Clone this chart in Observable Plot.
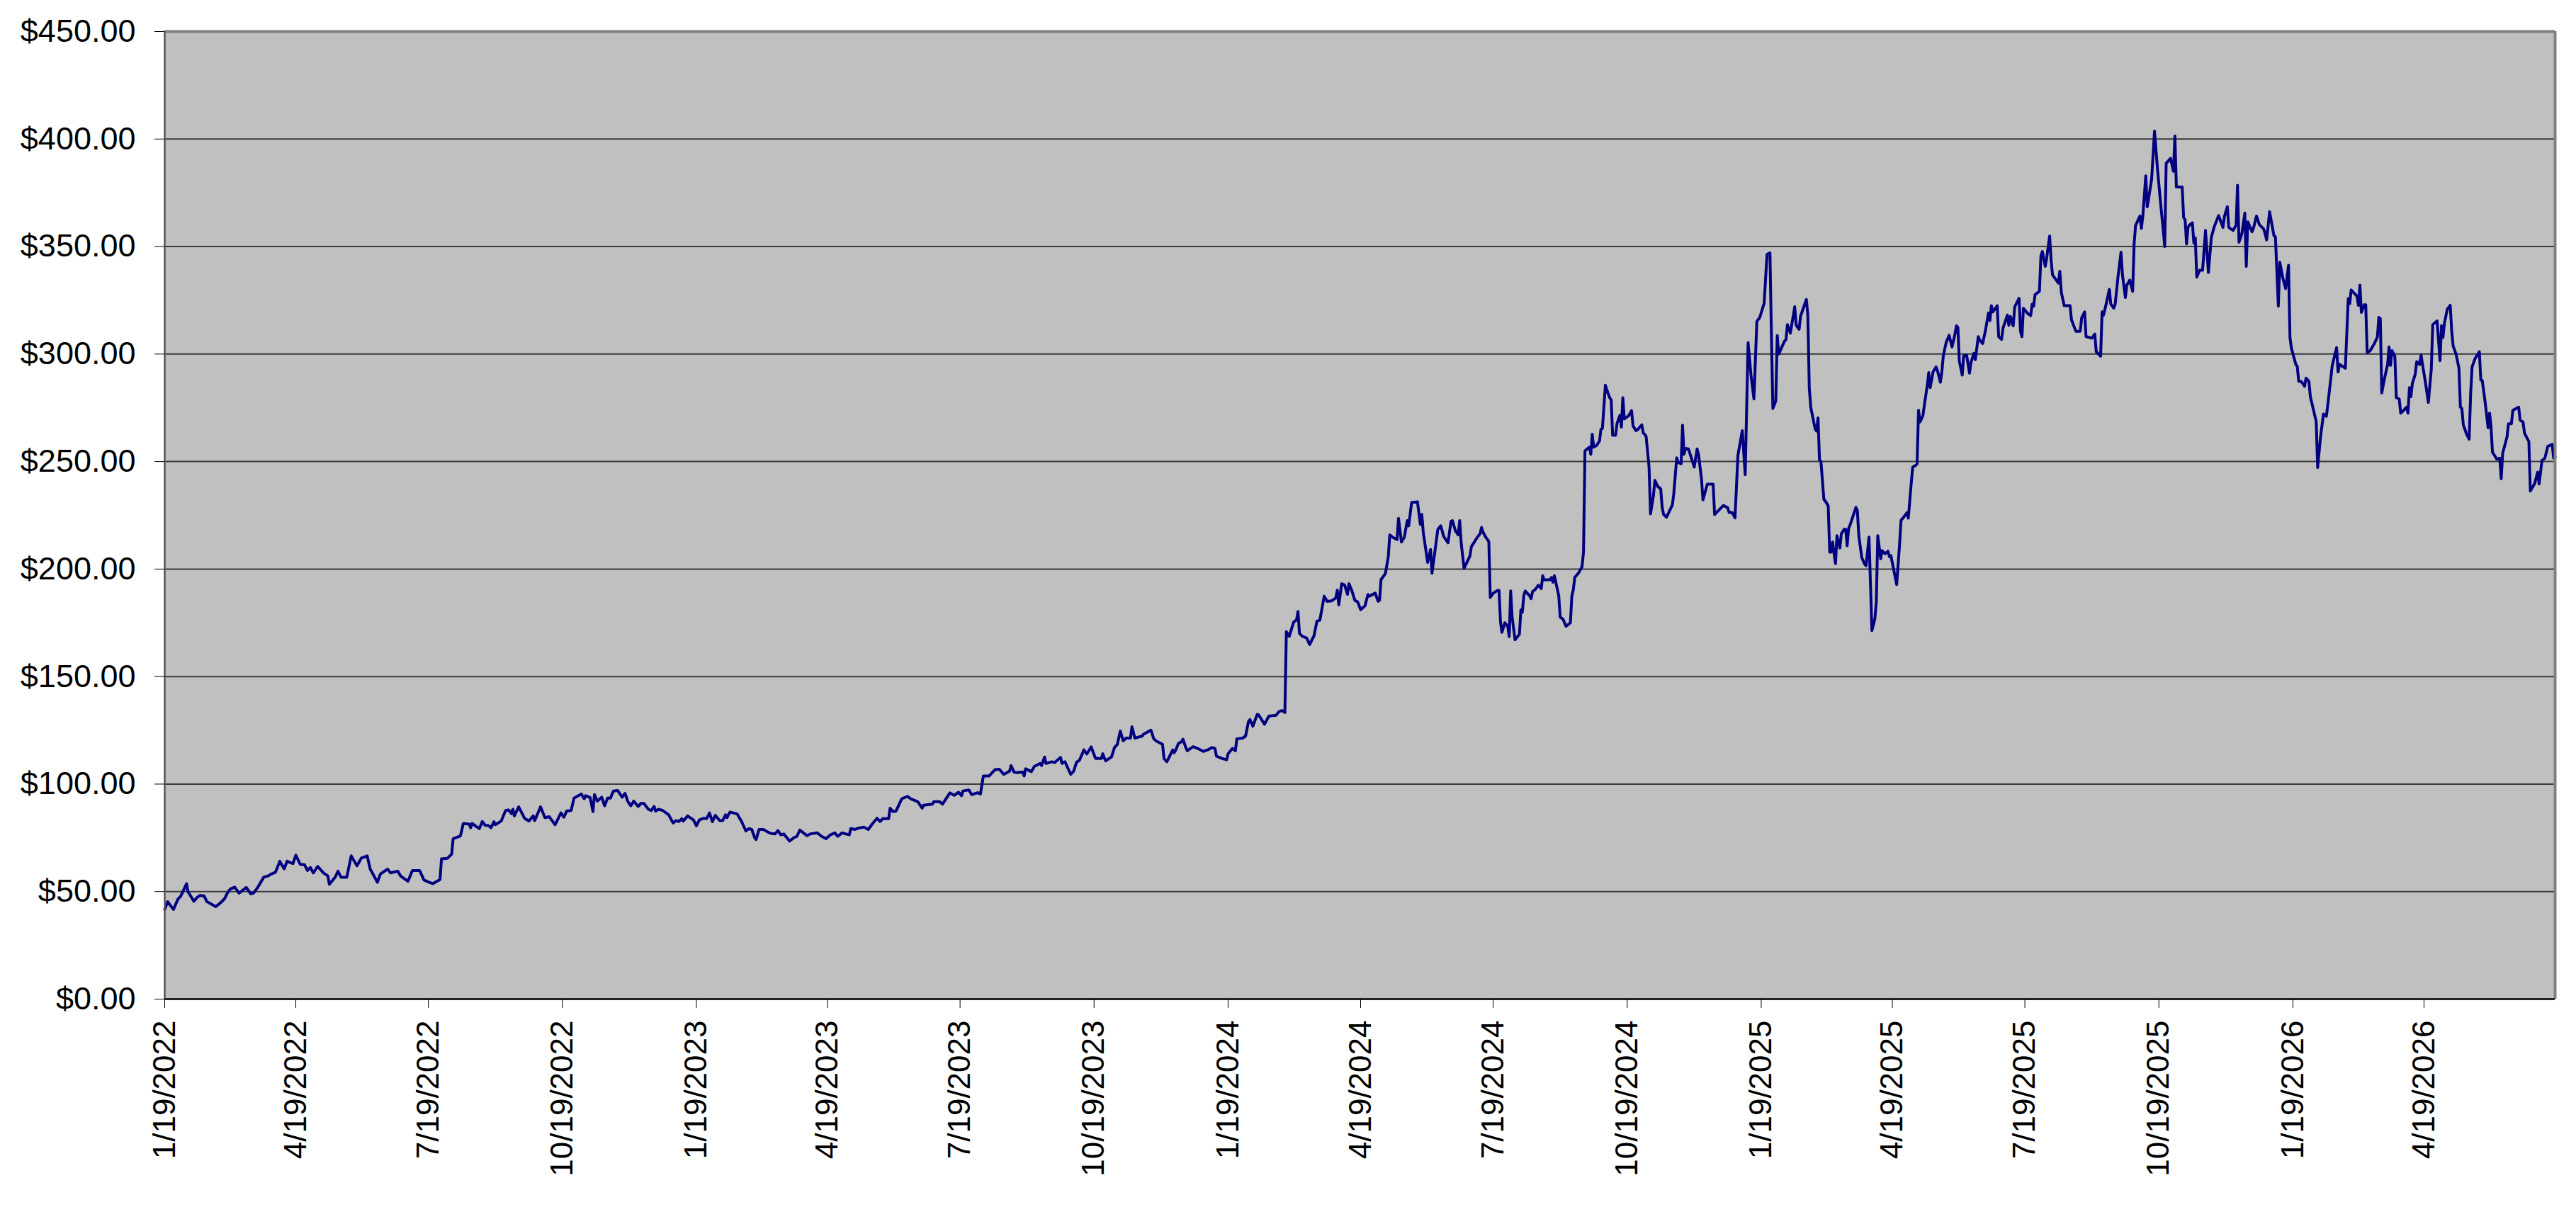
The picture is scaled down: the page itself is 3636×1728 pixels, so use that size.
<!DOCTYPE html>
<html>
<head>
<meta charset="utf-8">
<script src="https://cdn.jsdelivr.net/npm/d3@7"></script>
<script src="https://cdn.jsdelivr.net/npm/@observablehq/plot@0.6"></script>
<style>
  html, body { margin: 0; padding: 0; background: #fff; }
  #chart svg { display: block; }
</style>
</head>
<body>
<div id="chart"></div>
<script>
// ---- DATA (day offsets from the first date, closing price in $) ----
const startDate = "2022-01-19";

const days2022 = [0,2,6,9,11,15,16,20,22,24,27,29,31,35,38,41,43,45,48,51,56,59,61,64,68,71,73,76,79,82,84,88,90,93,96,98,100,102,105,109,112,113,117,119,121,125,128,132,135,139,141,146,148,153,155,160,162,167,170,175,178,181,184,189,190,194,197,198,203,205,209,210,211,216,218,220,222,224,226,227,231,234,236,238,239,240,243,247,250,253,254,258,261,264,268,272,274,276,279,281,286,288,289,292,294,295,297,300,302,304,306,308,311,314,316,318,320,322,325,327,329,332,334,336,337,339,342,346];
const prices2022 = [41.7,45.3,41.7,46.4,47.9,53.7,49.9,45.5,47.1,48.2,48.0,45.3,44.6,43.0,44.6,46.6,49.3,51.2,52.1,49.3,51.9,49.0,49.3,52.1,56.7,57.3,58.1,59.0,64.1,60.6,64.1,63.0,66.9,62.7,62.5,59.8,61.2,58.7,61.7,58.7,57.3,53.4,56.7,59.5,56.7,56.7,66.6,62.0,65.6,66.6,60.6,54.3,58.1,60.5,58.7,59.5,57.2,54.8,59.8,59.8,55.4,54.5,53.7,55.6,65.2,65.5,67.4,74.6,75.9,81.7,81.4,79.7,81.7,79.3,82.6,80.8,80.8,79.7,82.5,81.1,82.8,87.7,88.0,86.3,88.3,85.2,89.4,84.1,82.8,85.2,83.0,89.4,84.4,84.8,81.1,86.6,84.6,87.5,87.7,93.5,95.4,93.2,94.6,93.8,87.2,95.1,92.1,93.9,89.9,93.5,93.5,96.8,97.0,93.9,95.7,91.8,89.9,92.1,89.6,91.0,91.0,88.3,87.7,89.6,87.4,88.3,87.7,85.7];

const days2023 = [349,351,353,355,356,359,363,365,367,370,372,374,376,378,381,383,385,386,388,393,396,399,401,403,405,406,408,411,414,416,419,421,423,425,429,432,434,436,441,443,448,451,454,457,460,462,465,470,471,474,476,480,483,486,489,491,493,497,498,500,502,506,510,512,517,520,521,527,528,532,534,539,542,545,547,548,552,554,558,560,562,566,570,573,576,580,581,583,585,589,590,591,595,597,601,602,604,605,609,611,615,616,618,622,624,626,628,631,633,636,639,643,644,645,646,650,652,654,656,658,660,663,664,666,671,672,677,679,681,685,686,688,692,693,694,696,698,699,701,702,706,709];
const prices2023 = [81.9,83.0,82.6,83.9,82.8,85.2,83.3,80.6,83.3,84.1,83.9,86.6,82.5,85.5,83.0,83.0,85.7,84.4,87.0,86.1,82.6,78.2,79.3,78.9,75.1,74.2,78.9,78.9,77.7,77.1,76.8,78.4,76.4,76.8,73.5,75.1,75.7,78.6,76.0,76.8,77.3,75.7,74.6,76.4,77.3,75.7,77.3,76.4,79.3,78.9,79.5,80.0,78.9,81.7,84.1,82.6,83.9,83.9,88.8,87.2,87.4,93.2,94.3,93.2,91.8,88.8,90.2,90.7,91.8,91.8,90.7,95.9,94.8,96.2,94.6,96.8,97.3,95.1,96.0,95.4,103.8,103.8,106.7,106.9,104.5,106.0,108.6,105.6,105.3,105.6,103.8,107.1,105.8,108.2,109.6,108.6,112.6,109.6,110.4,110.0,112.4,109.6,110.4,104.5,106.0,110.2,111.1,115.9,114.0,117.3,111.9,111.9,114.1,112.2,110.8,112.6,117.0,118.5,124.7,120.1,121.4,121.4,126.7,121.4,122.3,123.2,125.1,121.0,119.9,118.5,111.9,110.4,115.9,114.6,115.7,119.0,119.6,120.9,117.0,115.5,117.4,116.6];

const days2024 = [713,716,719,721,722,726,729,730,733,735,736,740,742,744,745,747,750,751,755,758,763,765,767,769,770,772,775,777,778,779,781,783,784,786,789,791,793,796,798,801,804,805,806,808,810,812,813,815,817,819,821,824,826,827,831,833,834,835,838,840,841,843,846,847,849,851,853,854,856,860,862,863,864,867,869,870,874,876,878,881,883,884,886,888,889,890,892,896,897,901,903,904,905,907,909,910,912,915,916,917,918,920,922,923,924,925,927,930,931,932,933,934,937,938,939,941,943,945,946,947,951,952,953,954,957,958,960,962,965,966,967,968,971,973,974,975,978,979,980,981,983,985,986,987,989,991,992,993,994,996,997,999,1000,1001,1002,1005,1007,1008,1010,1011,1014,1015,1016,1017,1019,1020,1022,1023,1025,1027,1028,1029,1031,1035,1036,1038,1039,1041,1042,1043,1044,1046,1048,1050,1052,1053,1055,1056,1059,1063,1064,1066,1070,1073,1074,1076];
const prices2024 = [115.2,115.9,117.0,116.6,113.0,111.9,111.3,114.1,116.6,115.5,121.0,121.4,122.3,129.1,130.0,126.9,132.4,132.2,127.8,131.6,132.0,133.8,134.2,133.3,170.9,168.7,175.3,176.4,180.3,170.1,168.7,168.2,167.9,164.9,169.0,175.8,176.2,187.4,185.0,185.2,186.6,190.2,183.3,193.2,192.6,188.2,193.2,189.9,185.5,184.7,181.1,182.9,188.2,187.4,188.8,185.0,185.5,195.1,197.9,205.8,215.9,214.8,213.7,223.6,212.6,214.8,222.5,220.1,230.9,231.3,220.7,225.4,217.0,203.1,209.1,198.1,218.5,220.1,215.2,212.2,222.1,222.5,217.9,215.9,222.5,212.4,200.3,206.0,210.4,214.7,216.4,219.4,217.2,214.7,212.8,186.8,188.7,190.1,190.1,175.5,170.6,175.0,173.4,168.6,189.8,177.7,167.1,169.7,181.0,179.9,187.6,189.8,187.6,186.2,189.5,190.6,192.5,190.9,196.9,195.0,195.0,196.1,193.9,196.9,187.6,177.7,176.6,173.4,175.0,187.6,190.4,196.1,198.6,201.1,207.9,255.0,256.7,253.4,262.7,256.7,257.5,259.6,265.1,265.4,285.5,281.4,279.7,278.6,262.2,262.2,267.7,271.5,266.0,279.7,269.8,271.3,273.7,266.6,264.4,264.7,267.1,263.3,262.7,261.6,247.4,225.7,234.2,241.3,238.4,237.3,228.7,225.4,224.1,229.8,235.3,251.8,249.6,249.0,266.9,253.4,256.1,255.9,251.8,247.4,255.9,253.1,241.9,232.2,239.5,239.5,225.4,226.8,229.6,228.5,226.3,226.3];

const days2025 = [1078,1080,1083,1085,1087,1089,1091,1093,1095,1098,1100,1102,1103,1104,1106,1107,1108,1112,1113,1114,1116,1119,1120,1122,1123,1127,1128,1129,1130,1133,1134,1135,1136,1137,1138,1139,1141,1142,1143,1144,1145,1146,1147,1148,1150,1151,1153,1154,1155,1156,1157,1161,1162,1163,1165,1167,1168,1170,1172,1174,1175,1176,1178,1179,1181,1183,1184,1185,1189,1191,1192,1194,1196,1197,1199,1200,1202,1203,1204,1205,1207,1208,1210,1211,1212,1214,1216,1217,1219,1220,1221,1223,1225,1227,1229,1230,1231,1232,1234,1235,1237,1239,1240,1242,1243,1245,1246,1248,1250,1252,1253,1254,1255,1258,1259,1261,1262,1265,1266,1267,1269,1270,1273,1274,1275,1276,1279,1281,1282,1283,1284,1287,1288,1289,1291,1292,1294,1295,1296,1300,1301,1302,1304,1306,1308,1309,1312,1315,1316,1318,1319,1323,1325,1326,1329,1330,1331,1333,1335,1336,1338,1339,1341,1343,1344,1346,1347,1349,1351,1352,1353,1356,1357,1358,1360,1361,1362,1364,1366,1368,1370,1372,1373,1374,1377,1379,1380,1381,1383,1385,1386,1387,1388,1389,1390,1392,1393,1394,1395,1397,1399,1401,1403,1405,1407,1410,1413,1414,1416,1417,1420,1422,1423,1424,1426,1428,1429,1430,1433,1434,1436,1438,1441];
const prices2025 = [223.8,252.9,264.4,243.9,305.3,290.1,279.1,315.2,317.0,323.6,346.4,347.0,308.8,274.7,278.2,308.6,300.0,306.0,306.6,313.7,309.7,322.0,313.4,311.5,317.6,325.4,318.1,284.1,275.3,265.2,264.2,270.3,250.8,250.1,241.3,232.5,230.6,229.3,207.9,207.9,212.6,207.1,202.5,215.5,209.8,216.4,218.6,218.4,210.8,218.9,220.5,228.7,227.2,215.5,205.4,202.3,201.6,214.9,171.4,176.8,184.6,215.5,204.8,208.6,207.1,208.3,205.8,206.3,192.8,211.7,222.7,224.3,226.2,223.7,240.1,247.4,248.2,248.9,273.8,268.4,271.3,276.3,285.4,291.4,284.4,291.7,294.0,292.3,286.9,291.7,299.2,305.5,308.7,303.3,309.3,313.1,312.5,296.7,290.2,299.2,299.5,291.1,296.1,300.3,297.4,308.1,306.5,304.9,311.2,319.1,315.6,322.5,319.6,322.5,308.1,306.8,312.1,318.1,313.4,317.5,313.1,321.9,325.9,310.6,308.1,321.3,318.8,317.9,323.2,322.2,327.6,329.2,345.6,347.7,340.8,344.8,354.9,343.6,336.8,333.0,338.5,328.8,322.5,322.5,322.5,315.9,310.6,310.6,316.9,319.6,308.1,307.4,309.3,301.1,299.0,319.6,318.1,323.8,330.1,323.2,321.3,323.2,336.4,347.4,336.8,326.3,332.1,334.4,329.2,351.2,359.8,364.2,358.4,364.4,382.9,368.5,372.5,381.2,403.7,386.4,371.4,357.5,350.0,388.7,391.0,385.0,401.4,377.7,377.7,377.7,363.5,362.4,351.2,358.9,360.0,361.0,351.7,354.0,335.8,339.0,339.0,357.5,337.9,354.3,359.2,364.4,358.9,364.0,368.5,358.9,357.5,360.0,378.5,352.0,356.1,365.6,340.8,361.5,356.9,358.7,364.2,360.2,358.1];

const days2026 = [1443,1445,1448,1449,1451,1452,1454,1456,1458,1459,1460,1463,1464,1465,1467,1469,1470,1472,1473,1477,1478,1480,1482,1484,1485,1487,1488,1491,1492,1493,1497,1499,1500,1501,1505,1506,1507,1508,1510,1511,1512,1514,1517,1519,1520,1521,1522,1524,1526,1527,1528,1529,1531,1532,1534,1535,1537,1539,1540,1541,1542,1543,1545,1546,1548,1549,1550,1552,1554,1556,1557,1560,1561,1562,1563,1564,1565,1567,1569,1570,1571,1573,1575,1576,1577,1578,1580,1582,1583,1584,1586,1589,1590,1591,1593,1595,1596,1597,1598,1601,1603,1604,1605,1608,1609,1611,1612,1616,1617,1619,1620,1623,1624,1627,1629,1630,1632,1634,1636,1639,1640,1641];
const prices2026 = [353.1,366.2,355.0,354.6,322.3,342.7,335.6,330.4,341.3,307.6,302.7,295.2,294.2,287.3,287.1,285.0,288.8,287.3,280.1,268.6,247.2,261.7,272.1,271.1,276.7,288.5,294.6,303.0,291.7,295.2,293.4,325.8,323.4,329.8,326.9,322.6,332.1,319.4,322.9,322.9,300.7,301.5,305.0,307.9,317.1,316.5,281.9,289.0,295.1,303.3,294.7,301.6,298.9,279.7,279.1,272.5,273.8,275.3,272.5,284.4,280.2,286.3,290.7,296.5,295.1,299.5,295.1,286.8,277.5,292.9,313.7,315.4,306.0,296.9,313.2,307.7,314.3,320.9,322.7,311.0,303.8,300.0,293.4,275.3,274.7,267.0,263.2,260.4,281.3,294.0,297.8,301.1,287.9,287.7,277.5,265.7,272.5,266.5,254.4,251.1,251.6,242.0,253.8,261.5,267.6,267.6,273.8,275.3,269.2,268.4,263.2,259.3,236.3,239.8,245.1,239.6,250.5,251.6,257.1,258.0,251.6,252.2];

const xTickLabels = ["1/19/2022","4/19/2022","7/19/2022","10/19/2022","1/19/2023","4/19/2023","7/19/2023","10/19/2023","1/19/2024","4/19/2024","7/19/2024","10/19/2024","1/19/2025","4/19/2025","7/19/2025","10/19/2025","1/19/2026","4/19/2026"];
const yTicks = [0,50,100,150,200,250,300,350,400,450];

// ---- BUILD ----
const start = d3.utcParse("%Y-%m-%d")(startDate);
const segments = [[days2022, prices2022],[days2023, prices2023],[days2024, prices2024],[days2025, prices2025],[days2026, prices2026]];
const data = [];
for (const [ds, ps] of segments) ds.forEach((d, i) => data.push({date: d3.utcDay.offset(start, d), price: ps[i]}));
const end = data[data.length - 1].date;

const parseMDY = s => { const [m, d, y] = s.split("/").map(Number); return new Date(Date.UTC(y, m - 1, d)); };
const xTicks = xTickLabels.map(parseMDY);
const fmtMDY = d => `${d.getUTCMonth() + 1}/${d.getUTCDate()}/${d.getUTCFullYear()}`;

const chart = Plot.plot({
  width: 3636,
  height: 1728,
  marginLeft: 232,
  marginRight: 30,
  marginTop: 44,
  marginBottom: 318,
  style: {fontFamily: "'Liberation Sans', Arial, sans-serif", fontSize: "44px", color: "#000", background: "#fff"},
  x: {type: "utc", domain: [start, end]},
  y: {domain: [0, 450]},
  marks: [
    Plot.frame({fill: "#c0c0c0", stroke: null}),
    Plot.ruleY(yTicks.filter(v => v > 0 && v < 450), {stroke: "#3a3a3a", strokeWidth: 2}),
    Plot.lineY(data, {x: "date", y: "price", stroke: "#000080", strokeWidth: 4, strokeLinejoin: "round"}),
    Plot.ruleY([450], {stroke: "#808080", strokeWidth: 4}),
    Plot.ruleX([end], {stroke: "#808080", strokeWidth: 4}),
    Plot.ruleX([start], {stroke: "#555", strokeWidth: 2.5}),
    Plot.ruleY([0], {stroke: "#222", strokeWidth: 3}),
    Plot.axisY({ticks: yTicks, tickFormat: v => "$" + v.toFixed(2), tickSize: 14, tickPadding: 27, label: null, fontSize: 45, stroke: "#000"}),
    Plot.axisX({ticks: xTicks, tickFormat: fmtMDY, tickSize: 13, tickPadding: 17, tickRotate: -90, label: null, fontSize: 44, stroke: "#000"})
  ]
});
document.getElementById("chart").appendChild(chart);
</script>
</body>
</html>
